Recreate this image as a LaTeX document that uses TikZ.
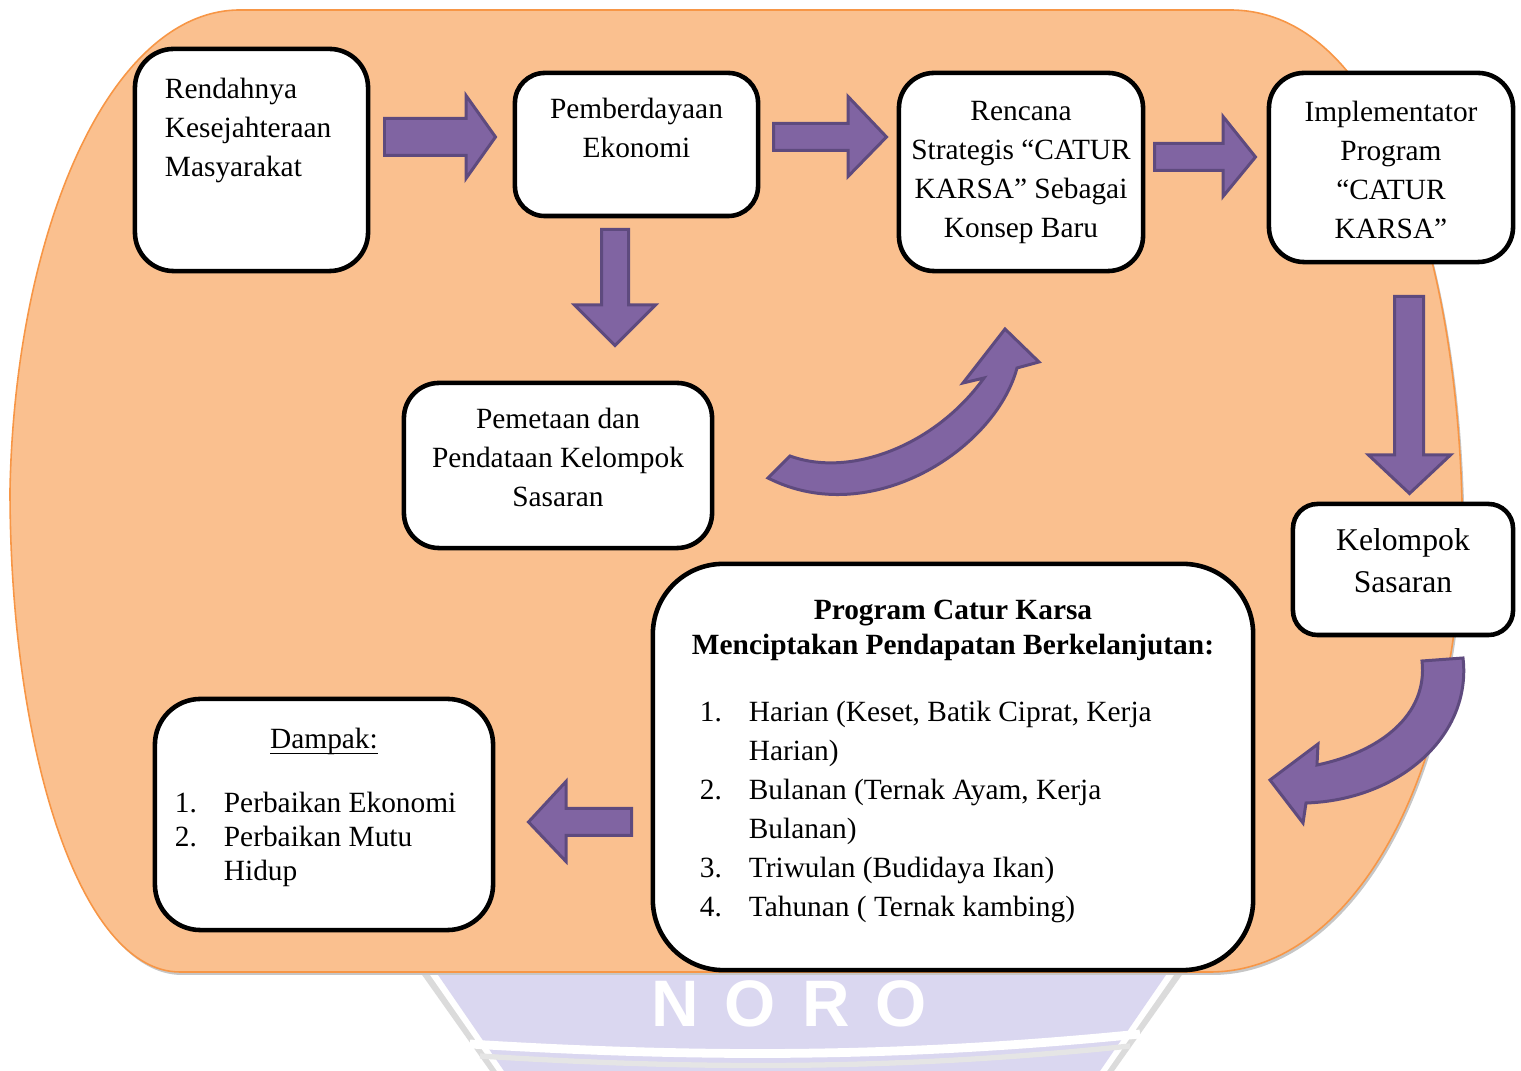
\documentclass[tikz,border=0pt]{standalone}
\usepackage{fontspec}
\setmainfont{Liberation Serif}
\newfontfamily\wmfont{Liberation Sans}
\usetikzlibrary{calc}
\definecolor{bgfill}{RGB}{250,192,143}
\definecolor{bgline}{RGB}{247,150,70}
\definecolor{arrowfill}{RGB}{128,100,162}
\definecolor{arrowline}{RGB}{94,74,126}
\definecolor{wmark}{RGB}{218,215,240}
\newcommand{\inbox}[4]{\parbox[c][#2][t]{#1}{\vspace*{#3}#4}}
\newcommand{\numitem}[2]{\hangindent=0.49cm\hangafter=1\noindent\makebox[0.49cm][l]{#1}#2\par}

\begin{document}
\begin{tikzpicture}[x=0.01cm, y=-0.01cm,
  font=\fontsize{8.35pt}{11.1pt}\selectfont,
  box/.style={draw=black, line width=1.3pt, fill=white, rounded corners=#1, inner sep=0pt},
  box/.default=9pt,
  blockarrow/.style={fill=arrowfill, draw=arrowline, line width=0.85pt, line join=miter}]
\useasboundingbox (0,0) rectangle (1521,1071);

% Filigrane (logo en fond)
\fill[gray!28] (420,972) -- (490,1071) -- (1114,1071) -- (1184,972) -- cycle;
\fill[white] (428,972) -- (497,1071) -- (1107,1071) -- (1176,972) -- cycle;
\fill[wmark] (436,972) -- (504,1071) -- (1100,1071) -- (1168,972) -- cycle;
\draw[white, line width=2.5pt] (470,1044) .. controls (700,1058) and (900,1058) .. (1140,1034);
\draw[gray!20, line width=1.5pt] (480,1056) .. controls (700,1070) and (900,1070) .. (1130,1046);
\node[font=\wmfont\bfseries\fontsize{18.7pt}{18.7pt}\selectfont, text=white] (wm) at (789,1004)
  {N\hspace{0.26cm}O\hspace{0.26cm}R\hspace{0.26cm}O};

% Fond orange
\fill[gray!45, shift={(2,3)}]
  (240,10) -- (1230,10) .. controls (1380,10) and (1455,250) .. (1462,500)
  .. controls (1465,780) and (1350,972) .. (1210,972) -- (180,972)
  .. controls (80,972) and (10,750) .. (10,490)
  .. controls (15,230) and (110,10) .. (240,10) -- cycle;
\filldraw[fill=bgfill, draw=bgline, line width=0.45pt]
  (240,10) -- (1230,10) .. controls (1380,10) and (1455,250) .. (1462,500)
  .. controls (1465,780) and (1350,972) .. (1210,972) -- (180,972)
  .. controls (80,972) and (10,750) .. (10,490)
  .. controls (15,230) and (110,10) .. (240,10) -- cycle;

% Boites
\node[box=11pt] (rend) at (251.5,160) {\inbox{2.33cm}{2.22cm}{0.29cm}{\raggedright\leftskip=0.30cm
  Rendahnya\\Kesejahteraan\\Masyarakat}};
\node[box=8.5pt] (pemb) at (636.5,144.5) {\inbox{2.43cm}{1.43cm}{0.25cm}{\centering
  Pemberdayaan\\Ekonomi}};
\node[box=10pt] (renc) at (1021,172) {\inbox{2.44cm}{1.98cm}{0.28cm}{\centering
  Rencana\\Strategis “CATUR\\KARSA” Sebagai\\Konsep Baru}};
\node[box=10pt] (impl) at (1391,167.5) {\inbox{2.44cm}{1.89cm}{0.28cm}{\centering
  Implementator\\Program\\“CATUR\\KARSA”}};
\node[box=10pt] (peme) at (558,465.5) {\inbox{3.08cm}{1.65cm}{0.25cm}{\centering
  Pemetaan dan\\Pendataan Kelompok\\Sasaran}};
\node[box=7pt] (kel) at (1403,569.5) {\inbox{2.20cm}{1.31cm}{0.25cm}{\centering
  \fontsize{9pt}{11.7pt}\selectfont Kelompok\\Sasaran}};
\node[box=20pt] (prog) at (953,767) {\inbox{6.00cm}{4.06cm}{0.36cm}{%
  {\centering\bfseries\fontsize{8.35pt}{10pt}\selectfont Program Catur Karsa\\Menciptakan Pendapatan Berkelanjutan:\par}%
  \vspace{0.28cm}\raggedright\leftskip=0.47cm
  \numitem{1.}{Harian (Keset, Batik Ciprat, Kerja\newline Harian)}
  \numitem{2.}{Bulanan (Ternak Ayam, Kerja\newline Bulanan)}
  \numitem{3.}{Triwulan (Budidaya Ikan)}
  \numitem{4.}{Tahunan ( Ternak kambing)}}};
\node[box=13pt] (damp) at (324,814.5) {\inbox{3.38cm}{2.31cm}{0.29cm}{%
  {\centering\underline{\raisebox{0pt}[\height][0pt]{Dampak:}}\par}%
  \fontsize{8.35pt}{9.7pt}\selectfont\vspace{0.30cm}\raggedright\leftskip=0.20cm
  \numitem{1.}{Perbaikan Ekonomi}
  \numitem{2.}{Perbaikan Mutu\newline Hidup}}};

% Fleches droites
\draw[blockarrow] (384.5,118.5) -- (466,118.5) -- (466,95.5) -- (495.5,137)
  -- (466,178.5) -- (466,155.5) -- (384.5,155.5) -- cycle;
\draw[blockarrow] (773.5,123.5) -- (848,123.5) -- (848,96.5) -- (886.5,137)
  -- (848,176.5) -- (848,150.5) -- (773.5,150.5) -- cycle;
\draw[blockarrow] (1154.5,143.5) -- (1223,143.5) -- (1223,116.5) -- (1255.5,157)
  -- (1223,196.5) -- (1223,170.5) -- (1154.5,170.5) -- cycle;
\draw[blockarrow] (601.5,229.5) -- (601.5,305) -- (574.5,305) -- (615,345.5)
  -- (655.5,305) -- (628.5,305) -- (628.5,229.5) -- cycle;
\draw[blockarrow] (1394.5,296.5) -- (1394.5,455) -- (1368.5,455) -- (1409.5,493.5)
  -- (1450.5,455) -- (1423.5,455) -- (1423.5,296.5) -- cycle;
\draw[blockarrow] (631.5,808.5) -- (566,808.5) -- (566,781.5) -- (528.5,822)
  -- (566,861.5) -- (566,835.5) -- (631.5,835.5) -- cycle;

% Fleches courbes
\draw[blockarrow] (790,456) .. controls (850,478) and (935,446) .. (984,378)
  -- (963,383) -- (1005,329) -- (1039,362) -- (1017,368)
  .. controls (995,450) and (870,530) .. (768,478) -- cycle;
\draw[blockarrow] (1422,661) -- (1463,658) .. controls (1472,735) and (1400,800) .. (1306,803)
  -- (1303,823) -- (1270,780) -- (1318,744) -- (1317,765)
  .. controls (1380,752) and (1428,715) .. (1422,661) -- cycle;
\end{tikzpicture}
\end{document}
